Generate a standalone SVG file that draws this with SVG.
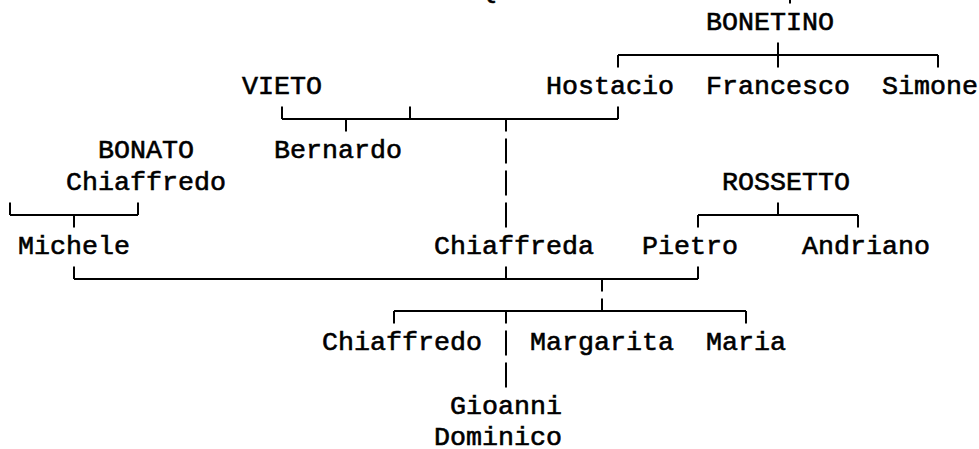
<svg xmlns="http://www.w3.org/2000/svg" width="979" height="449" viewBox="0 0 979 449">
<style>
.t{font-family:"Liberation Mono","DejaVu Sans Mono",monospace;font-size:26.67px;fill:#000;stroke:#000;stroke-width:0.6}
.c{fill:none;stroke:#000;stroke-width:2;stroke-linecap:butt}
</style>
<rect width="979" height="449" fill="#fff"/>
<g id="fragment-top"><text class="t" x="480" y="-2">Q</text></g>
<g id="BONETINO"><text class="t" x="706" y="30">BONETINO</text></g>
<g id="VIETO"><text class="t" x="242" y="94">VIETO</text></g>
<g id="Hostacio"><text class="t" x="546" y="94">Hostacio</text></g>
<g id="Francesco"><text class="t" x="706" y="94">Francesco</text></g>
<g id="Simone"><text class="t" x="882" y="94">Simone</text></g>
<g id="BONATO"><text class="t" x="98" y="158">BONATO</text></g>
<g id="Bernardo"><text class="t" x="274" y="158">Bernardo</text></g>
<g id="Chiaffredo-Bonato"><text class="t" x="66" y="190">Chiaffredo</text></g>
<g id="ROSSETTO"><text class="t" x="722" y="190">ROSSETTO</text></g>
<g id="Michele"><text class="t" x="18" y="254">Michele</text></g>
<g id="Chiaffreda"><text class="t" x="434" y="254">Chiaffreda</text></g>
<g id="Pietro"><text class="t" x="642" y="254">Pietro</text></g>
<g id="Andriano"><text class="t" x="802" y="254">Andriano</text></g>
<g id="Chiaffredo"><text class="t" x="322" y="350">Chiaffredo</text></g>
<g id="Margarita"><text class="t" x="530" y="350">Margarita</text></g>
<g id="Maria"><text class="t" x="706" y="350">Maria</text></g>
<g id="Gioanni-Dominico"><text class="t" x="450" y="414">Gioanni</text><text class="t" x="434" y="445">Dominico</text></g>
<g id="connectors">
<path class="c" d="M790,0V3.5"/>
<path class="c" d="M618,55H938M618,55V67.5M778,42.5V67.5M938,55V67.5"/>
<path class="c" d="M282,119H618M282,106.5V119M346,119V131.5M410,106.5V119M506,119V131.5M618,106.5V119"/>
<path class="c" d="M506,138.5V163.5M506,170.5V195.5M506,202.5V227.5"/>
<path class="c" d="M10,215H138M10,202.5V215M74,215V227.5M138,202.5V215"/>
<path class="c" d="M698,215H858M698,215V227.5M778,202.5V215M858,215V227.5"/>
<path class="c" d="M74,279H698M74,266.5V279M506,266.5V279M602,279V291.5M698,266.5V279"/>
<path class="c" d="M394,311H746M394,311V323.5M506,311V323.5M602,298.5V311M746,311V323.5"/>
<path class="c" d="M506,330.5V355.5M506,362.5V387.5"/>
</g>
</svg>
